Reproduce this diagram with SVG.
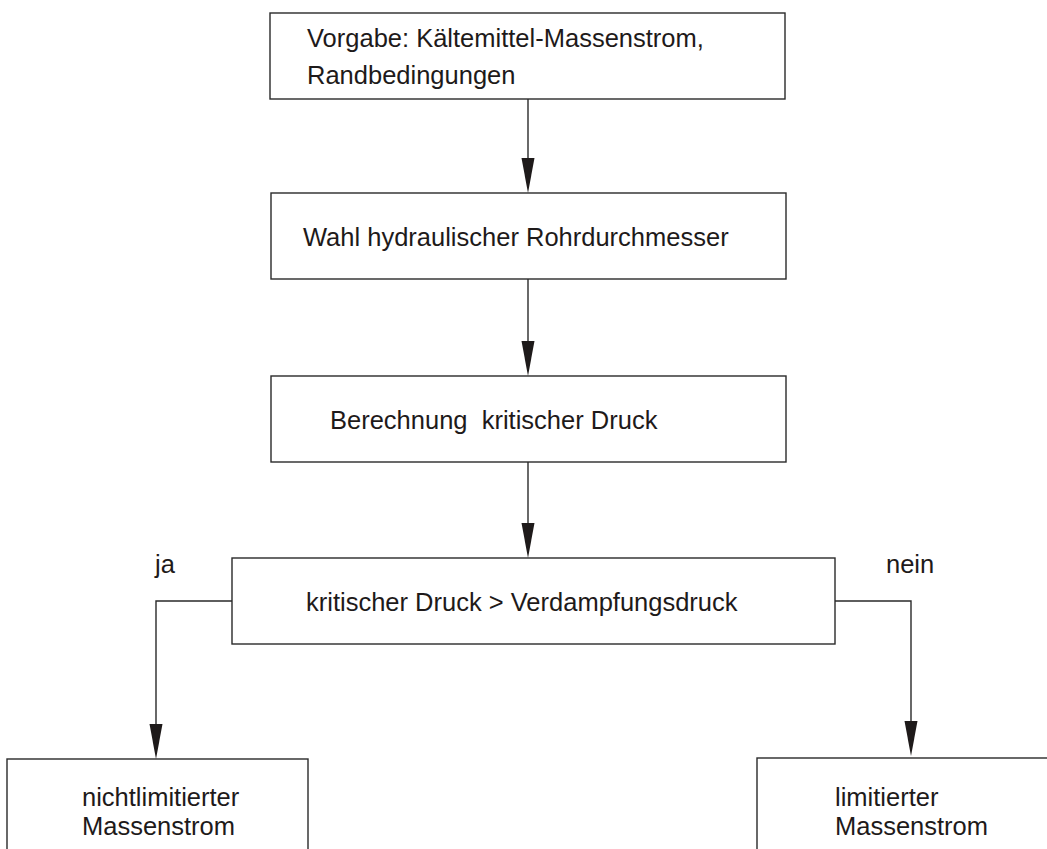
<svg xmlns="http://www.w3.org/2000/svg" width="1047" height="849" viewBox="0 0 1047 849">
<style>
.box{fill:#fff;stroke:#2a2a2a;stroke-width:1.4}
.t{font-family:"Liberation Sans",Arial,sans-serif;font-size:25.5px;fill:#1e1a1a}
.ln{fill:none;stroke:#2a2a2a;stroke-width:1.4}
.ah{fill:#1e1a1a}
</style>
<rect width="1047" height="849" fill="#fff"/>
<g id="n1"><rect class="box" x="270" y="13" width="515" height="86"/><text class="t" x="307" y="47">Vorgabe: Kältemittel-Massenstrom,</text><text class="t" x="307" y="84">Randbedingungen</text></g>
<g id="n2"><rect class="box" x="271" y="193" width="515" height="86"/><text class="t" x="303" y="246">Wahl hydraulischer Rohrdurchmesser</text></g>
<g id="n3"><rect class="box" x="271" y="376" width="515" height="86"/><text class="t" x="330" y="429" xml:space="preserve">Berechnung  kritischer Druck</text></g>
<g id="n4"><rect class="box" x="232" y="558" width="603" height="86"/><text class="t" x="306" y="611">kritischer Druck &gt; Verdampfungsdruck</text></g>
<g id="n5"><rect class="box" x="7" y="759" width="301" height="120"/><text class="t" x="82" y="806">nichtlimitierter</text><text class="t" x="82" y="835">Massenstrom</text></g>
<g id="n6"><rect class="box" x="757" y="758" width="320" height="120"/><text class="t" x="835" y="806">limitierter</text><text class="t" x="835" y="835">Massenstrom</text></g>
<g id="connectors">
<line class="ln" x1="528" y1="99" x2="528" y2="160"/><polygon class="ah" points="521.5,158 534.5,158 528,193"/>
<line class="ln" x1="528" y1="279" x2="528" y2="343"/><polygon class="ah" points="521.5,341 534.5,341 528,376"/>
<line class="ln" x1="528" y1="462" x2="528" y2="525"/><polygon class="ah" points="521.5,523 534.5,523 528,558"/>
<polyline class="ln" points="232,601 156,601 156,726"/><polygon class="ah" points="149.5,724 162.5,724 156,759"/>
<polyline class="ln" points="835,601 911,601 911,723"/><polygon class="ah" points="904.5,721 917.5,721 911,756"/>
</g>
<text class="t" x="155" y="573">ja</text>
<text class="t" x="886" y="573">nein</text>
</svg>
